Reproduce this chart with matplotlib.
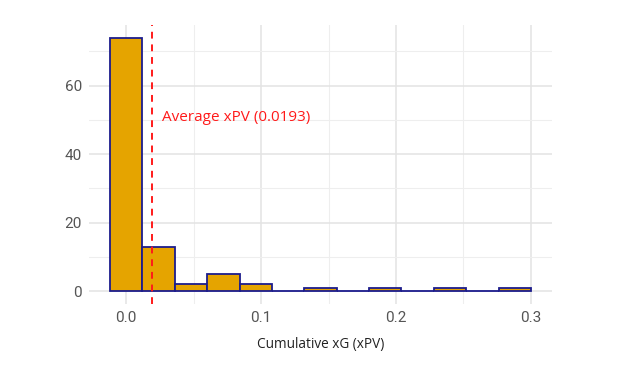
import numpy as np
import matplotlib
matplotlib.use("Agg")
import matplotlib.pyplot as plt
from matplotlib.ticker import MultipleLocator

# histogram counts (13 bins, width ~0.024)
bin_centers = [0.000, 0.024, 0.048, 0.072, 0.096, 0.120, 0.144,
               0.168, 0.192, 0.216, 0.240, 0.264, 0.288]
counts = [74, 13, 2, 5, 2, 0, 1, 0, 1, 0, 1, 0, 1]
bin_width = 0.024
avg_xpv = 0.0193
avg_label = "Average xPV (0.0193)"
x_label = "Cumulative xG (xPV)"

fig = plt.figure(figsize=(6.24, 3.74), dpi=100)
ax = fig.add_axes([0.1426, 0.1872, 0.742, 0.746])

ax.bar(bin_centers, counts, width=bin_width, color="#E5A400",
       edgecolor="#1c1c8c", linewidth=1.3, zorder=3)

ax.axvline(avg_xpv, color="#FF1A1A", linestyle=(0, (3.5, 3)), linewidth=1.4, zorder=4)
ax.text(avg_xpv + 0.0072, 50.6, avg_label, color="#FF1A1A", fontsize=11,
        family="Open Sans", va="center", ha="left", zorder=5)

ax.set_xlim(-0.0276, 0.3156)
ax.set_ylim(-3.7, 77.7)
ax.xaxis.set_major_locator(MultipleLocator(0.1))
ax.xaxis.set_minor_locator(MultipleLocator(0.05))
ax.yaxis.set_major_locator(MultipleLocator(20))
ax.yaxis.set_minor_locator(MultipleLocator(10))
ax.xaxis.set_major_formatter(plt.FuncFormatter(lambda v, p: f"{v:.1f}"))

ax.grid(which="major", color="#E3E3E3", linewidth=1.1, zorder=0)
ax.grid(which="minor", color="#EEEEEE", linewidth=0.8, zorder=0)
ax.set_axisbelow(True)
for s in ax.spines.values():
    s.set_visible(False)
ax.tick_params(which="both", length=0, pad=5)
ax.tick_params(labelsize=11, labelcolor="#555555")
for lab in ax.get_xticklabels() + ax.get_yticklabels():
    lab.set_family(["Liberation Sans Narrow", "Roboto"])

ax.set_xlabel(x_label, family="Open Sans", fontsize=9.8, color="#222222", labelpad=9)

plt.savefig("out.png", dpi=100)
